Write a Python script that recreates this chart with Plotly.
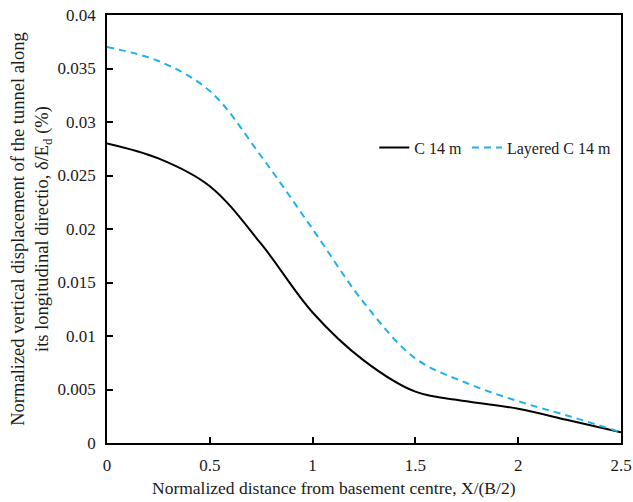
import plotly.graph_objects as go

x_vals = [0, 0.25, 0.5, 0.75, 1.0, 1.25, 1.5, 1.75, 2.0, 2.25, 2.5]
c14 = [0.028, 0.0266, 0.0240, 0.0186, 0.0122, 0.0077, 0.0048, 0.0039, 0.0032, 0.0021, 0.001]
layered_c14 = [0.037, 0.0357, 0.0329, 0.0268, 0.0200, 0.0131, 0.0079, 0.0056, 0.0039, 0.0025, 0.001]

x_ticks = [0, 0.5, 1, 1.5, 2, 2.5]
y_ticks = [0, 0.005, 0.01, 0.015, 0.02, 0.025, 0.03, 0.035, 0.04]

x_title = "Normalized distance from basement centre, X/(B/2)"
y_title = "Normalized vertical displacement of the tunnel along<br>its longitudinal directio, δ/E<sub>d</sub> (%)"

FONT = "Liberation Serif"
TXT = "#1a1a1a"

fig = go.Figure()
fig.add_trace(go.Scatter(x=x_vals, y=c14, mode="lines", name="C 14 m",
                         line=dict(color="black", width=2, shape="spline", smoothing=1)))
fig.add_trace(go.Scatter(x=x_vals, y=layered_c14, mode="lines", name="Layered C 14 m",
                         line=dict(color="#1FB1EE", width=2, shape="spline", smoothing=1,
                                   dash="7px,5px")))

axis_common = dict(showgrid=False, zeroline=False, showline=True, linecolor="black",
                   linewidth=1.5, mirror=True, ticks="inside", ticklen=6, tickwidth=1.5,
                   tickcolor="black", tickfont=dict(family=FONT, size=17, color=TXT),
                   automargin=False)

fig.update_layout(
    width=633, height=502,
    margin=dict(l=107, r=12, t=15, b=59, autoexpand=False),
    plot_bgcolor="white", paper_bgcolor="white",
    font=dict(family=FONT, size=17, color=TXT),
    showlegend=True,
    legend=dict(orientation="h", x=0.52, y=0.69, xanchor="left", yanchor="middle",
                bgcolor="rgba(0,0,0,0)", font=dict(family=FONT, size=16, color=TXT),
                itemwidth=30, tracegroupgap=0),
    annotations=[dict(text=x_title, xref="paper", yref="paper", x=0.4416, y=-0.105,
                      xanchor="center", yanchor="middle", showarrow=False,
                      font=dict(family=FONT, size=17.5, color=TXT))],
)
fig.update_xaxes(range=[0, 2.5], tickvals=x_ticks, ticktext=[str(v) for v in x_ticks],
                 ticklabelstandoff=6, **axis_common)
fig.update_yaxes(range=[0, 0.04], tickvals=y_ticks, ticktext=[str(v) for v in y_ticks],
                 ticklabelstandoff=6,
                 title=dict(text=y_title, font=dict(family=FONT, size=18.5, color=TXT), standoff=4),
                 **axis_common)

fig.write_html("out.html")
